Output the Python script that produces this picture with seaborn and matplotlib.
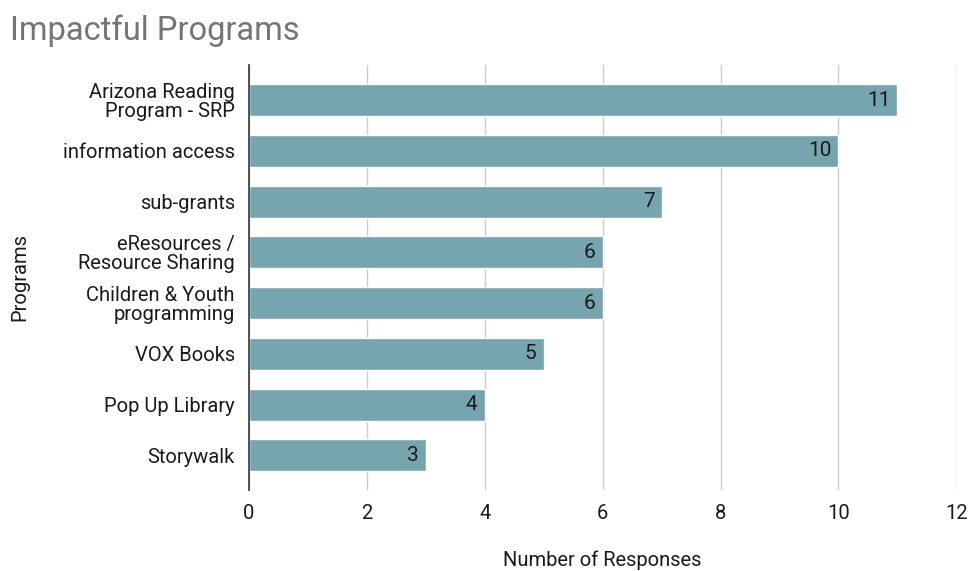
import matplotlib
matplotlib.use("Agg")
import matplotlib.pyplot as plt
import seaborn as sns
import pandas as pd

programs = ["Arizona Reading\nProgram - SRP", "information access", "sub-grants",
            "eResources /\nResource Sharing", "Children & Youth\nprogramming",
            "VOX Books", "Pop Up Library", "Storywalk"]
responses = [11, 10, 7, 6, 6, 5, 4, 3]
xticks = [0, 2, 4, 6, 8, 10, 12]

sns.set_theme(style="white")
plt.rcParams['font.family'] = ['Roboto', 'DejaVu Sans']

df = pd.DataFrame({"Programs": programs, "Number of Responses": responses})

fig = plt.figure(figsize=(9.68, 5.71), dpi=100)
ax = fig.add_axes([0.257, 0.142, 0.731, 0.744])

sns.barplot(data=df, y="Programs", x="Number of Responses", orient="h",
            color="#76a5af", saturation=1, width=0.63, ax=ax, zorder=3)

for i, v in enumerate(responses):
    ax.text(v - 0.12, i, str(v), ha="right", va="center", fontsize=15,
            color="#1a1a1a", zorder=4)

ax.set_xlim(0, 12)
ax.set_ylim(7.68, -0.69)
ax.set_xticks(xticks)
ax.set_xticklabels([str(t) for t in xticks], fontsize=14.5, color="#1a1a1a")
ax.tick_params(axis="x", length=0, pad=10)
ax.tick_params(axis="y", length=0, pad=10, labelsize=14.5, labelcolor="#1a1a1a")
for lab in ax.get_yticklabels():
    lab.set_horizontalalignment("right")
    lab.set_multialignment("right")
    lab.set_linespacing(1.0)
ax.grid(axis="x", color="#cccccc", linewidth=1, zorder=0)
for s in ["top", "right", "bottom"]:
    ax.spines[s].set_visible(False)
ax.spines["left"].set_color("#333333")
ax.spines["left"].set_linewidth(1.2)
ax.spines["left"].set_zorder(5)

ax.set_xlabel("Number of Responses", fontsize=14.5, color="#1a1a1a", labelpad=20)
ax.set_ylabel("Programs", fontsize=14.5, color="#1a1a1a")
ax.yaxis.set_label_coords(-0.31, 0.5)

fig.text(0.010, 0.947, "Impactful Programs", fontsize=23.5, color="#757575",
         ha="left", va="center")

fig.savefig("out.png", dpi=100)
